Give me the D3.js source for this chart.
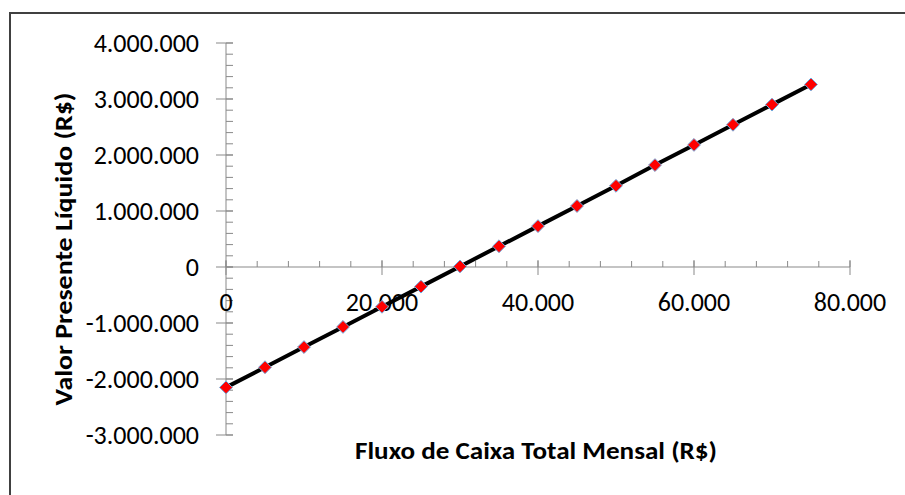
<!DOCTYPE html>
<html>
<head>
<meta charset="utf-8">
<script src="https://cdn.jsdelivr.net/npm/d3@7"></script>
<style>
  body { margin: 0; background: #fff; }
  svg { display: block; font-family: Carlito, Calibri, "Open Sans", sans-serif; }
</style>
</head>
<body>
<div id="chart"></div>
<script>
"use strict";

// fluxo de caixa mensal (R$) vs VPL (R$)
const fluxo = [0, 5000, 10000, 15000, 20000, 25000, 30000, 35000, 40000, 45000, 50000, 55000, 60000, 65000, 70000, 75000];
const vpl = [-2150000, -1790000, -1430000, -1070000, -710000, -350000, 10000, 370000, 730000, 1090000, 1450000, 1820000, 2180000, 2540000, 2900000, 3260000];
const xTicks = [0, 20000, 40000, 60000, 80000];
const yTicks = [-3000000, -2000000, -1000000, 0, 1000000, 2000000, 3000000, 4000000];

const W = 905, H = 495;
const svg = d3.select('#chart').append('svg').attr('width', W).attr('height', H);

// borda do gráfico
svg.append('rect').attr('x', 10).attr('y', 13).attr('width', W + 10).attr('height', H + 10)
   .attr('fill', 'none').attr('stroke', '#404040').attr('stroke-width', 2);

const x = d3.scaleLinear().domain([0, 80000]).range([226, 850]);
const y = d3.scaleLinear().domain([-3000000, 4000000]).range([435, 43]);

const ptBR = d3.formatLocale({decimal: ',', thousands: '.', grouping: [3], currency: ['R$', ''], minus: '-'});
const fmt = ptBR.format(',d');
const axisColor = '#898989';

// eixo y (cruza em x = 0)
const gy = svg.append('g');
gy.append('line').attr('x1', x(0)).attr('x2', x(0)).attr('y1', y(4000000)).attr('y2', y(-3000000))
  .attr('stroke', axisColor).attr('stroke-width', 1);
gy.selectAll('.minor').data(d3.range(-3000000, 4000001, 200000)).enter()
  .append('line').attr('x1', x(0)).attr('x2', x(0) + 7)
  .attr('y1', d => y(d)).attr('y2', d => y(d)).attr('stroke', axisColor);
gy.selectAll('.major').data(yTicks).enter()
  .append('line').attr('x1', x(0) - 10).attr('x2', x(0) + 7)
  .attr('y1', d => y(d)).attr('y2', d => y(d)).attr('stroke', axisColor);
gy.selectAll('text').data(yTicks).enter()
  .append('text').attr('x', 199).attr('y', d => y(d)).attr('dy', '0.33em')
  .attr('text-anchor', 'end').attr('font-size', 26).attr('fill', '#000')
  .text(d => fmt(d));

// eixo x (cruza em y = 0)
const gx = svg.append('g');
gx.append('line').attr('x1', x(0)).attr('x2', x(80000)).attr('y1', y(0)).attr('y2', y(0))
  .attr('stroke', axisColor);
gx.selectAll('.minor').data(d3.range(0, 80001, 4000)).enter()
  .append('line').attr('x1', d => x(d)).attr('x2', d => x(d))
  .attr('y1', y(0) - 6).attr('y2', y(0)).attr('stroke', axisColor);
gx.selectAll('.major').data(xTicks).enter()
  .append('line').attr('x1', d => x(d)).attr('x2', d => x(d))
  .attr('y1', y(0) - 7).attr('y2', y(0) + 8).attr('stroke', axisColor);
gx.selectAll('text').data(xTicks).enter()
  .append('text').attr('x', d => x(d)).attr('y', 311)
  .attr('text-anchor', 'middle').attr('font-size', 26).attr('fill', '#000')
  .text(d => fmt(d));

// linha da série
const line = d3.line().x((d, i) => x(fluxo[i])).y(d => y(d));
svg.append('path').datum(vpl).attr('d', line)
   .attr('fill', 'none').attr('stroke', '#000').attr('stroke-width', 4);

// marcadores losango
const diamond = d3.symbol().type(d3.symbolDiamond2).size(105);
svg.selectAll('.pt').data(vpl).enter()
   .append('path').attr('class', 'pt').attr('d', diamond)
   .attr('transform', (d, i) => `translate(${x(fluxo[i])},${y(d)})`)
   .attr('fill', '#ff0000').attr('stroke', '#6fa8dc').attr('stroke-width', 1);

// títulos dos eixos
svg.append('text').attr('x', 536).attr('y', 459).attr('text-anchor', 'middle')
   .attr('font-size', 25).attr('font-weight', 'bold').attr('fill', '#000')
   .attr('textLength', 362).attr('lengthAdjust', 'spacingAndGlyphs')
   .text('Fluxo de Caixa Total Mensal (R$)');
svg.append('text').attr('transform', 'translate(72,249) rotate(-90)').attr('text-anchor', 'middle')
   .attr('font-size', 25).attr('font-weight', 'bold').attr('fill', '#000')
   .attr('textLength', 313).attr('lengthAdjust', 'spacingAndGlyphs')
   .text('Valor Presente Líquido (R$)');
</script>
</body>
</html>
